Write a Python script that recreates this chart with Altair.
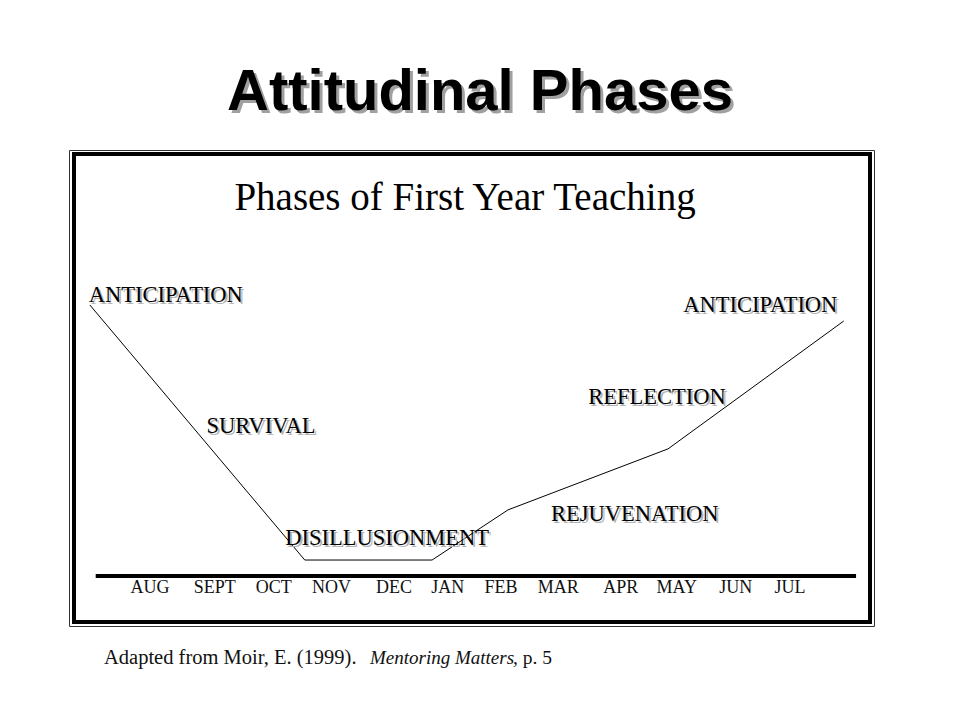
import altair as alt
import pandas as pd

# ---- data ----
line_month = [-1.03, 2.65, 4.83, 6.13, 8.87, 11.88]
line_morale = [100, 5.9, 5.9, 24.4, 46.9, 94.1]

phase_labels = ["ANTICIPATION", "SURVIVAL", "DISILLUSIONMENT", "REJUVENATION", "REFLECTION", "ANTICIPATION"]
phase_month = [0.27, 1.90, 4.06, 8.30, 8.68, 10.45]
phase_morale = [103.7, 55.4, 14.0, 22.9, 66.1, 100.0]

month_labels = ["AUG", "SEPT", "OCT", "NOV", "DEC", "JAN", "FEB", "MAR", "APR", "MAY", "JUN", "JUL"]
month_pos = [0, 1.11, 2.12, 3.11, 4.18, 5.10, 6.01, 6.99, 8.06, 9.02, 10.03, 10.96]

axis_start = [-0.93]
axis_end = [12.09]

W, H = 944, 704
xdom = [-2.4315, 13.7329]
ydom = [-50.18, 209.59]

xs = alt.Scale(domain=xdom, nice=False, zero=False)
ys = alt.Scale(domain=ydom, nice=False, zero=False)
noax = None

line_df = pd.DataFrame({"m": line_month, "v": line_morale})
phase_df = pd.DataFrame({"label": phase_labels, "m": phase_month, "v": phase_morale})
month_df = pd.DataFrame({"label": month_labels, "m": month_pos})
axis_df = pd.DataFrame({"m": axis_start, "m2": axis_end, "v": [0]})
one = pd.DataFrame({"a": [0]})

SERIF = "Liberation Serif"

frame_outer = alt.Chart(one).mark_rect(fill=None, stroke="#333", strokeWidth=1).encode(
    x=alt.value(69 - 8 + 0.5), x2=alt.value(875 - 8 - 0.5),
    y=alt.value(150 - 8 + 0.5), y2=alt.value(627 - 8 - 0.5))
frame_inner = alt.Chart(one).mark_rect(fill=None, stroke="black", strokeWidth=4).encode(
    x=alt.value(74 - 8), x2=alt.value(870 - 8),
    y=alt.value(154 - 8), y2=alt.value(622 - 8))

title_shadow = alt.Chart(one).mark_text(text="Attitudinal Phases", font="Liberation Sans", fontWeight="bold",
                                        fontSize=58, color="#a0a0a0", baseline="alphabetic", align="center").encode(
    x=alt.value(480 - 8 + 3), y=alt.value(110 - 8 + 3))
title = alt.Chart(one).mark_text(text="Attitudinal Phases", font="Liberation Sans", fontWeight="bold",
                                 fontSize=58, color="black", baseline="alphabetic", align="center").encode(
    x=alt.value(480 - 8), y=alt.value(110 - 8))

subtitle = alt.Chart(one).mark_text(text="Phases of First Year Teaching", font=SERIF, fontSize=39,
                                    color="black", baseline="alphabetic", align="center").encode(
    x=alt.value(465 - 8), y=alt.value(210 - 8))

line = alt.Chart(line_df).mark_line(color="black", strokeWidth=1).encode(
    x=alt.X("m:Q", scale=xs, axis=noax), y=alt.Y("v:Q", scale=ys, axis=noax))

axis_rule = alt.Chart(axis_df).mark_rule(color="black", strokeWidth=4).encode(
    x=alt.X("m:Q", scale=xs, axis=noax), x2="m2:Q", y=alt.Y("v:Q", scale=ys, axis=noax))

phase_shadow = alt.Chart(phase_df).mark_text(font=SERIF, fontSize=22.5, color="#b4b4b4", dx=2, dy=2,
                                             baseline="middle", align="center").encode(
    x=alt.X("m:Q", scale=xs, axis=noax), y=alt.Y("v:Q", scale=ys, axis=noax), text="label:N")
phase_text = alt.Chart(phase_df).mark_text(font=SERIF, fontSize=22.5, color="black",
                                           baseline="middle", align="center").encode(
    x=alt.X("m:Q", scale=xs, axis=noax), y=alt.Y("v:Q", scale=ys, axis=noax), text="label:N")

months = alt.Chart(month_df).mark_text(font=SERIF, fontSize=18, color="#111",
                                       baseline="middle", align="center").encode(
    x=alt.X("m:Q", scale=xs, axis=noax), y=alt.value(588 - 8), text="label:N")

foot1 = alt.Chart(one).mark_text(text="Adapted from Moir, E. (1999).", font=SERIF, fontSize=20.5, color="#111",
                                 baseline="alphabetic", align="left").encode(
    x=alt.value(104 - 8), y=alt.value(664 - 8))
foot2 = alt.Chart(one).mark_text(text="Mentoring Matters", font=SERIF, fontSize=19, fontStyle="italic",
                                 color="#111", baseline="alphabetic", align="left").encode(
    x=alt.value(370 - 8), y=alt.value(664 - 8))
foot3 = alt.Chart(one).mark_text(text=", p. 5", font=SERIF, fontSize=19.5, color="#111",
                                 baseline="alphabetic", align="left").encode(
    x=alt.value(513 - 8), y=alt.value(664 - 8))

chart = alt.layer(
    frame_outer, frame_inner, title_shadow, title, subtitle,
    line, axis_rule, phase_shadow, phase_text, months, foot1, foot2, foot3
).properties(
    width=W, height=H, padding=0, autosize=alt.AutoSizeParams(type="none"),
    background="white"
).configure_view(stroke=None)

chart.save("out.html", embed_options={"renderer": "svg", "actions": False})
